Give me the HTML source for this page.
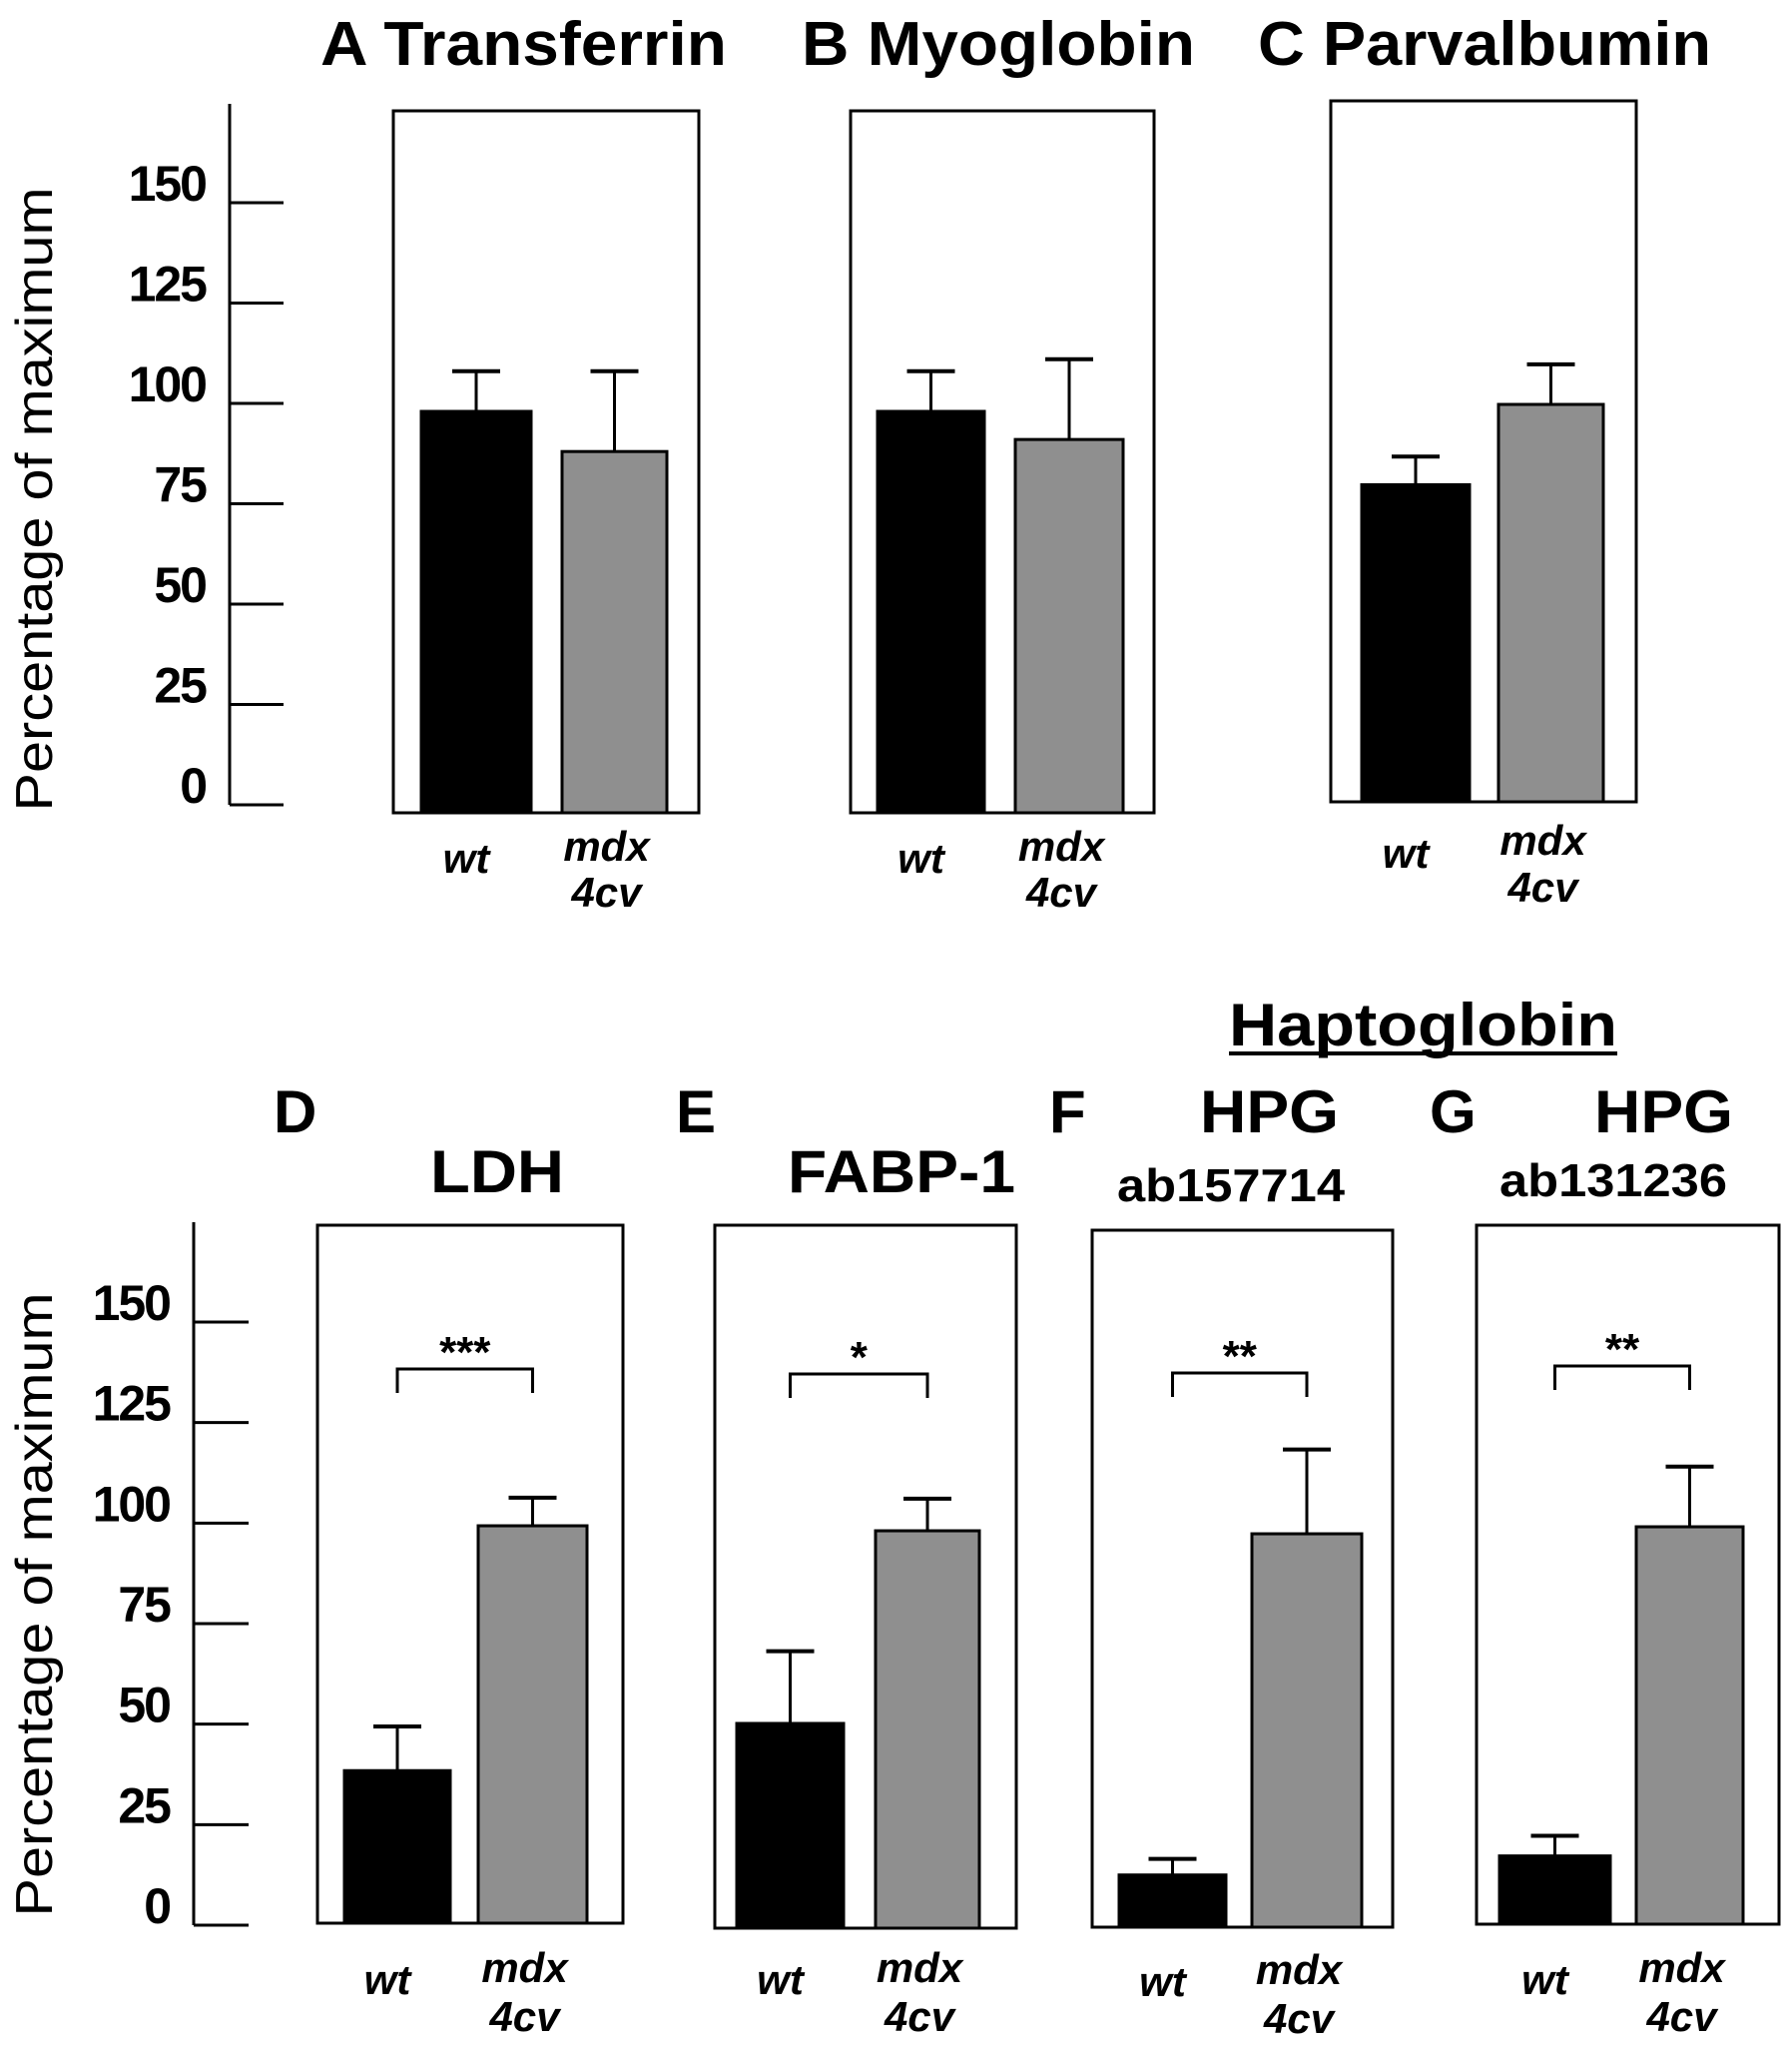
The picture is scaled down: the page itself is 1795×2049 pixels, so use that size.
<!DOCTYPE html>
<html><head><meta charset="utf-8"><style>
html,body{margin:0;padding:0;background:#fff}
svg{display:block}
text{font-family:"Liberation Sans",Arial,sans-serif;fill:#000}
</style></head><body>
<svg id="chart" width="1795" height="2049" viewBox="0 0 1795 2049" xmlns="http://www.w3.org/2000/svg"></svg>
<script>
const categories = ["wt", "mdx 4cv"];
const panelNames = ["Transferrin","Myoglobin","Parvalbumin","LDH","FABP-1","HPG ab157714","HPG ab131236"];
const wtMeans  = [100, 100, 79, 38, 51, 13, 17];
const wtErr    = [10, 10, 7, 11, 18, 4, 5];
const mdxMeans = [90, 93, 99, 99, 99, 98, 99];
const mdxErr   = [20, 20, 10, 7, 8, 21, 15];
const sigLabels = ["", "", "", "***", "*", "**", "**"];
const yTicks = [0, 25, 50, 75, 100, 125, 150];
const yTickLabels = ["0", "25", "50", "75", "100", "125", "150"];

const NS = "http://www.w3.org/2000/svg";
const svg = document.getElementById("chart");
function el(tag, attrs, parent) {
  const e = document.createElementNS(NS, tag);
  for (const k in attrs) e.setAttribute(k, attrs[k]);
  (parent || svg).appendChild(e);
  return e;
}
// layout (pixel geometry, not data)
const layout = [
  {bx:394,bw:306,top:111,bot:814,w0:422,w1:532,m0:563,m1:668,lblY:[874,862,908],br:null},
  {bx:852,bw:304,top:111,bot:814,w0:879,w1:986,m0:1017,m1:1125,lblY:[874,862,908],br:null},
  {bx:1333,bw:306,top:101,bot:803,w0:1364,w1:1472,m0:1501,m1:1606,lblY:[869,856,903],br:null},
  {bx:318,bw:306,top:1227,bot:1926,w0:345,w1:451,m0:479,m1:588,lblY:[1997,1985,2034],br:[1371,1395]},
  {bx:716,bw:302,top:1227,bot:1931,w0:738,w1:845,m0:877,m1:981,lblY:[1997,1985,2034],br:[1376,1400]},
  {bx:1094,bw:301,top:1232,bot:1930,w0:1121,w1:1228,m0:1254,m1:1364,lblY:[1999,1987,2036],br:[1375,1399]},
  {bx:1479,bw:303,top:1227,bot:1927,w0:1502,w1:1613,m0:1639,m1:1746,lblY:[1997,1985,2034],br:[1368,1392]}
];
const PX = 4.02;
function yScale(p, v) { return layout[p].bot - v * PX; }

function drawAxis(x, y0, y150, zeroY, tickEnd, lblX, titleX, titleY, name) {
  const g = el("g", {});
  
  
  el("line", {x1:x, y1:y0, x2:x, y2:zeroY, stroke:"#000","stroke-width":3}, g);
  yTicks.forEach((t, i) => {
    const y = zeroY - (zeroY - y150) * t / 150;
    const tk = el("line", {x1:x, y1:y, x2:tickEnd, y2:y, stroke:"#000","stroke-width":3}, g);
    
    
    const lb = el("text", {x:lblX, y:y - 2, "text-anchor":"end","font-size":50,"font-weight":"bold","letter-spacing":-2}, g);
    lb.textContent = yTickLabels[i];
    
    
  });
  const tt = el("text", {x:0, y:0, "text-anchor":"middle","font-size":52,
    transform:`translate(${titleX},${titleY}) rotate(-90)`, textLength:625, lengthAdjust:"spacingAndGlyphs"}, g);
  tt.textContent = "Percentage of maximum";
  
  
}
drawAxis(230, 104, 203, 806, 284, 206, 52, 500, "y-axis-top");
drawAxis(194, 1224, 1324, 1928, 249, 170, 52, 1607, "y-axis-bottom");

function txt(x, y, s, size, name, opts) {
  const a = Object.assign({x:x, y:y, "font-size":size, "font-weight":"bold"}, opts || {});
  const t = el("text", a);
  t.textContent = s;
  
  
  return t;
}
txt(321, 65, "A Transferrin", 62, "title-a", {textLength:407, lengthAdjust:"spacingAndGlyphs"});
txt(803, 65, "B Myoglobin", 62, "title-b", {textLength:394, lengthAdjust:"spacingAndGlyphs"});
txt(1260, 65, "C Parvalbumin", 62, "title-c", {textLength:454, lengthAdjust:"spacingAndGlyphs"});
txt(274, 1134, "D", 60, "title-d-letter");
txt(431, 1194, "LDH", 60, "title-d", {textLength:134, lengthAdjust:"spacingAndGlyphs"});
txt(677, 1134, "E", 60, "title-e-letter");
txt(789, 1194, "FABP-1", 60, "title-e", {textLength:228, lengthAdjust:"spacingAndGlyphs"});
txt(1231, 1047, "Haptoglobin", 60, "title-haptoglobin", {textLength:389, lengthAdjust:"spacingAndGlyphs"});
el("line", {x1:1231, y1:1055, x2:1620, y2:1055, stroke:"#000","stroke-width":4});
txt(1051, 1134, "F", 60, "title-f-letter");
txt(1202, 1134, "HPG", 60, "title-f", {textLength:139, lengthAdjust:"spacingAndGlyphs"});
txt(1119, 1203, "ab157714", 46, "subtitle-f", {textLength:228, lengthAdjust:"spacingAndGlyphs"});
txt(1432, 1134, "G", 60, "title-g-letter");
txt(1597, 1134, "HPG", 60, "title-g", {textLength:139, lengthAdjust:"spacingAndGlyphs"});
txt(1502, 1198, "ab131236", 46, "subtitle-g", {textLength:228, lengthAdjust:"spacingAndGlyphs"});

layout.forEach((L, p) => {
  const g = el("g", {});
  
  
  const box = el("rect", {x:L.bx, y:L.top, width:L.bw, height:L.bot - L.top, fill:"none", stroke:"#000","stroke-width":3}, g);
  
  
  const series = [
    {x0:L.w0, x1:L.w1, v:wtMeans[p], e:wtErr[p], fill:"#000", name:"bar-wt"},
    {x0:L.m0, x1:L.m1, v:mdxMeans[p], e:mdxErr[p], fill:"#8f8f8f", name:"bar-mdx"}
  ];
  series.forEach(s => {
    const cx = (s.x0 + s.x1) / 2;
    const yt = yScale(p, s.v), ye = yScale(p, s.v + s.e);
    const eb = el("line", {x1:cx, y1:yt, x2:cx, y2:ye, stroke:"#000","stroke-width":3}, g);
    
    
    const cap = el("line", {x1:cx - 24, y1:ye, x2:cx + 24, y2:ye, stroke:"#000","stroke-width":4}, g);
    
    
    const r = el("rect", {x:s.x0, y:yt, width:s.x1 - s.x0, height:L.bot - yt, fill:s.fill, stroke:"#000","stroke-width":3}, g);
    
    
  });
  const wc = (L.w0 + L.w1) / 2, mc = (L.m0 + L.m1) / 2;
  const l1 = el("text", {x:wc - 10, y:L.lblY[0], "text-anchor":"middle","font-size":42,"font-weight":"bold","font-style":"italic"}, g);
  l1.textContent = categories[0];
  
  
  const l2 = el("text", {x:mc - 8, y:L.lblY[1], "text-anchor":"middle","font-size":42,"font-weight":"bold","font-style":"italic"}, g);
  l2.textContent = categories[1].split(" ")[0];
  
  
  const l3 = el("text", {x:mc - 8, y:L.lblY[2], "text-anchor":"middle","font-size":42,"font-weight":"bold","font-style":"italic"}, g);
  l3.textContent = categories[1].split(" ")[1];
  
  
  if (L.br) {
    const b = el("path", {d:`M${wc},${L.br[1]} V${L.br[0]} H${mc} V${L.br[1]}`, fill:"none", stroke:"#000","stroke-width":3}, g);
    
    
    const st = el("text", {x:(wc + mc) / 2, y:L.br[0] - 2, "text-anchor":"middle","font-size":44,"font-weight":"bold"}, g);
    st.textContent = sigLabels[p];
    
    
  }
});
</script>
</body></html>
